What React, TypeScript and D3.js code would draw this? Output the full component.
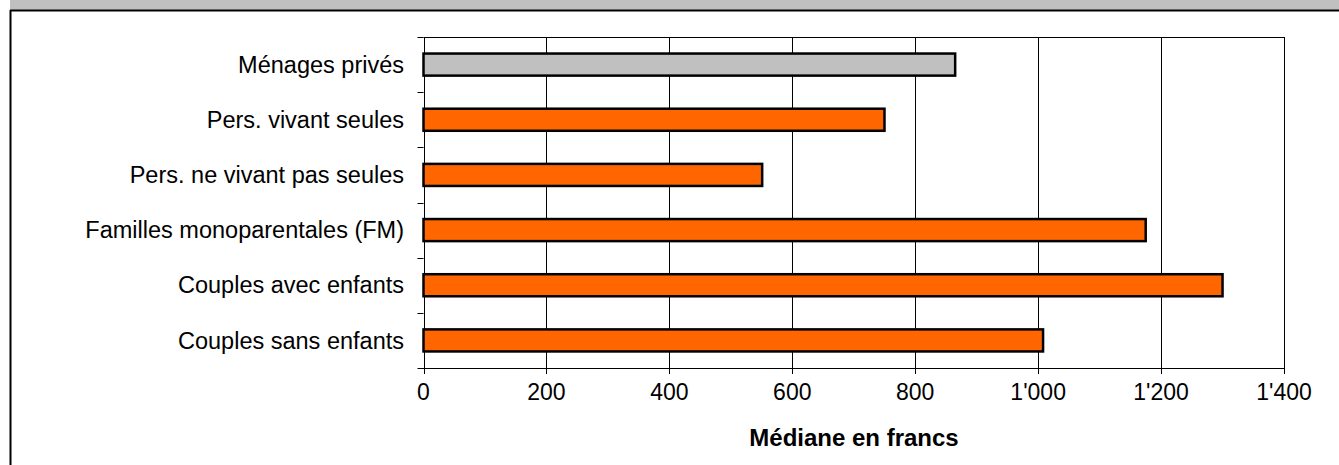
import React from "react";
import * as d3 from "d3";

const categories = [
  "Ménages privés",
  "Pers. vivant seules",
  "Pers. ne vivant pas seules",
  "Familles monoparentales (FM)",
  "Couples avec enfants",
  "Couples sans enfants",
];
const values = [865, 750, 551, 1175, 1300, 1008];
const highlight = [true, false, false, false, false, false];
const xTicks = [0, 200, 400, 600, 800, 1000, 1200, 1400];
const xTitle = "Médiane en francs";

const W = 1339;
const H = 465;
const left = 423.5;
const right = 1284;
const top = 37;
const bottom = 368;

export default function App() {
  const x = d3.scaleLinear().domain([0, 1400]).range([left, right]);
  const y = d3.scaleBand<string>().domain(categories).range([top, bottom]).paddingInner(0.6).paddingOuter(0.3);
  const band = d3.scaleBand<string>().domain(categories).range([top, bottom]);
  const fmt = (v: number) => d3.format(",")(v).replace(/,/g, "'");
  const font = "Liberation Sans, Arial, sans-serif";
  return (
    <svg width={W} height={H} style={{ position: "absolute", left: 0, top: 0, background: "#fff" }}>
      <rect x={10} y={0} width={W - 10} height={10} fill="#c0c0c0" />
      <line x1={10} x2={W} y1={10.5} y2={10.5} stroke="#000" strokeWidth={2} />
      <line x1={10.5} x2={10.5} y1={10} y2={H} stroke="#000" strokeWidth={2} />
      {xTicks.map((t) => (
        <line key={"g" + t} x1={Math.round(x(t)) + 0.5} x2={Math.round(x(t)) + 0.5} y1={top} y2={bottom + 6} stroke="#000" strokeWidth={1} />
      ))}
      <line x1={left} x2={right} y1={top + 0.5} y2={top + 0.5} stroke="#000" strokeWidth={1} />
      <line x1={left - 6} x2={right + 0.5} y1={bottom + 0.5} y2={bottom + 0.5} stroke="#000" strokeWidth={1} />
      {categories.map((c) => (
        <line key={"yt" + c} x1={left - 6} x2={left} y1={Math.round(band(c)!) + 0.5} y2={Math.round(band(c)!) + 0.5} stroke="#000" strokeWidth={1} />
      ))}
      {categories.map((c, i) => (
        <rect
          key={"b" + c}
          x={x(0)}
          y={y(c)!}
          width={x(values[i]) - x(0)}
          height={y.bandwidth()}
          fill={highlight[i] ? "#c0c0c0" : "#ff6600"}
          stroke="#000"
          strokeWidth={2.5}
        />
      ))}
      {categories.map((c) => (
        <text key={"yl" + c} x={404} y={band(c)! + band.bandwidth() / 2} dy="0.35em" textAnchor="end" fontFamily={font} fontSize={23.5} fill="#000">
          {c}
        </text>
      ))}
      {xTicks.map((t) => (
        <text key={"xl" + t} x={x(t)} y={400} textAnchor="middle" fontFamily={font} fontSize={23} fill="#000">
          {fmt(t)}
        </text>
      ))}
      <text x={854} y={446} textAnchor="middle" fontFamily={font} fontSize={24} fontWeight="bold" fill="#000">
        {xTitle}
      </text>
    </svg>
  );
}
